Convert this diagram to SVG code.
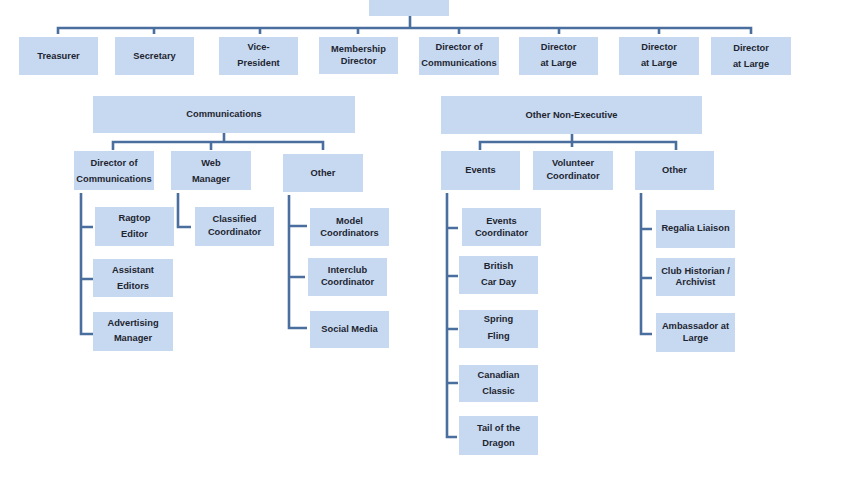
<svg xmlns="http://www.w3.org/2000/svg" width="860" height="480" viewBox="0 0 860 480">
<style>
.b{fill:#c6d9f0;stroke:none}
.t{font-family:"Liberation Sans",Arial,sans-serif;font-weight:bold;font-size:9.3px;fill:#1e2530;text-anchor:middle}
.c{fill:none;stroke:#4a6f9e;stroke-width:2.6;stroke-linejoin:miter}
</style>
<rect width="860" height="480" fill="#ffffff"/>
<g id="connectors" class="c">
<path d="M410,16V28M58,34V28H751V34M154,28V34M260,28V34M358,28V34M459,28V34M559,28V34M659,28V34"/>
<path d="M224,133V142M113,150V142H323V150M211,142V150"/>
<path d="M572,134V147M480,150V142H676V150"/>
<path d="M81,193V334H93M81,227H93M81,279H93"/>
<path d="M178,193V227H191"/>
<path d="M289,195V328H307M289,226H307M289,277H305"/>
<path d="M447,193V437H457M447,228H458M447,276H458M447,329H458M447,383H458"/>
<path d="M641,193V334H652M641,229H652M641,278H652"/>
</g>
<g id="president"><rect class="b" x="369" y="-5" width="80" height="21"/></g>
<g id="treasurer"><rect class="b" x="19" y="37" width="79" height="38"/><text class="t" x="58.5" y="59.3">Treasurer</text></g>
<g id="secretary"><rect class="b" x="115" y="37" width="79" height="38"/><text class="t" x="154.5" y="59.3">Secretary</text></g>
<g id="vice-president"><rect class="b" x="219" y="37" width="79" height="38"/><text class="t" x="258.5" y="50.3">Vice-</text><text class="t" x="258.5" y="66.3">President</text></g>
<g id="membership-director"><rect class="b" x="319" y="37" width="79" height="37"/><text class="t" x="358.5" y="52.3">Membership</text><text class="t" x="358.5" y="64.3">Director</text></g>
<g id="director-of-communications"><rect class="b" x="419" y="37" width="80" height="38"/><text class="t" x="459" y="50.3">Director of</text><text class="t" x="459" y="66.3">Communications</text></g>
<g id="director-at-large-1"><rect class="b" x="519" y="37" width="79" height="38"/><text class="t" x="558.5" y="50.3">Director</text><text class="t" x="558.5" y="66.3">at Large</text></g>
<g id="director-at-large-2"><rect class="b" x="619" y="37" width="80" height="38"/><text class="t" x="659" y="50.3">Director</text><text class="t" x="659" y="66.3">at Large</text></g>
<g id="director-at-large-3"><rect class="b" x="711" y="37" width="80" height="38"/><text class="t" x="751" y="51.3">Director</text><text class="t" x="751" y="67.3">at Large</text></g>
<g id="communications"><rect class="b" x="93" y="96" width="262" height="37"/><text class="t" x="224" y="117.3">Communications</text></g>
<g id="other-non-executive"><rect class="b" x="441" y="96" width="261" height="38"/><text class="t" x="571.5" y="118.3">Other Non-Executive</text></g>
<g id="comm-director"><rect class="b" x="74" y="151" width="80" height="39"/><text class="t" x="114" y="166.3">Director of</text><text class="t" x="114" y="182.3">Communications</text></g>
<g id="web-manager"><rect class="b" x="171" y="151" width="80" height="39"/><text class="t" x="211" y="166.3">Web</text><text class="t" x="211" y="182.3">Manager</text></g>
<g id="comm-other"><rect class="b" x="283" y="154" width="80" height="38"/><text class="t" x="323" y="176.3">Other</text></g>
<g id="ragtop-editor"><rect class="b" x="95" y="207" width="79" height="39"/><text class="t" x="134.5" y="221.3">Ragtop</text><text class="t" x="134.5" y="237.3">Editor</text></g>
<g id="assistant-editors"><rect class="b" x="93" y="259" width="80" height="38"/><text class="t" x="133" y="273.3">Assistant</text><text class="t" x="133" y="289.3">Editors</text></g>
<g id="advertising-manager"><rect class="b" x="93" y="312" width="80" height="39"/><text class="t" x="133" y="326.3">Advertising</text><text class="t" x="133" y="341.3">Manager</text></g>
<g id="classified-coordinator"><rect class="b" x="195" y="207" width="79" height="39"/><text class="t" x="234.5" y="222.3">Classified</text><text class="t" x="234.5" y="235.3">Coordinator</text></g>
<g id="model-coordinators"><rect class="b" x="310" y="208" width="79" height="38"/><text class="t" x="349.5" y="224.3">Model</text><text class="t" x="349.5" y="236.3">Coordinators</text></g>
<g id="interclub-coordinator"><rect class="b" x="308" y="258" width="79" height="38"/><text class="t" x="347.5" y="273.3">Interclub</text><text class="t" x="347.5" y="285.3">Coordinator</text></g>
<g id="social-media"><rect class="b" x="310" y="311" width="79" height="37"/><text class="t" x="349.5" y="332.3">Social Media</text></g>
<g id="events"><rect class="b" x="441" y="151" width="79" height="39"/><text class="t" x="480.5" y="173.3">Events</text></g>
<g id="volunteer-coordinator"><rect class="b" x="533" y="151" width="80" height="39"/><text class="t" x="573" y="166.3">Volunteer</text><text class="t" x="573" y="179.3">Coordinator</text></g>
<g id="nonexec-other"><rect class="b" x="635" y="151" width="79" height="39"/><text class="t" x="674.5" y="173.3">Other</text></g>
<g id="events-coordinator"><rect class="b" x="462" y="208" width="79" height="38"/><text class="t" x="501.5" y="224.3">Events</text><text class="t" x="501.5" y="236.3">Coordinator</text></g>
<g id="british-car-day"><rect class="b" x="459" y="256" width="79" height="38"/><text class="t" x="498.5" y="269.3">British</text><text class="t" x="498.5" y="285.3">Car Day</text></g>
<g id="spring-fling"><rect class="b" x="459" y="310" width="79" height="38"/><text class="t" x="498.5" y="322.3">Spring</text><text class="t" x="498.5" y="339.3">Fling</text></g>
<g id="canadian-classic"><rect class="b" x="459" y="365" width="79" height="37"/><text class="t" x="498.5" y="378.3">Canadian</text><text class="t" x="498.5" y="394.3">Classic</text></g>
<g id="tail-of-the-dragon"><rect class="b" x="459" y="416" width="79" height="39"/><text class="t" x="498.5" y="431.3">Tail of the</text><text class="t" x="498.5" y="446.3">Dragon</text></g>
<g id="regalia-liaison"><rect class="b" x="656" y="210" width="79" height="38"/><text class="t" x="695.5" y="231.3">Regalia Liaison</text></g>
<g id="club-historian"><rect class="b" x="656" y="258" width="79" height="38"/><text class="t" x="695.5" y="274.3">Club Historian /</text><text class="t" x="695.5" y="285.3">Archivist</text></g>
<g id="ambassador-at-large"><rect class="b" x="656" y="313" width="79" height="39"/><text class="t" x="695.5" y="329.3">Ambassador at</text><text class="t" x="695.5" y="341.3">Large</text></g>
</svg>
